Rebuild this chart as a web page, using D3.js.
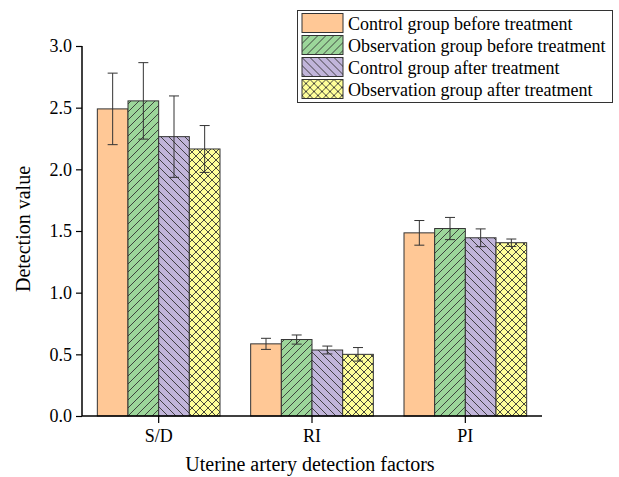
<!DOCTYPE html>
<html>
<head>
<meta charset="utf-8">
<script src="https://cdn.jsdelivr.net/npm/d3@7"></script>
<style>
  body { margin: 0; background: #fff; }
  text { font-family: "Liberation Serif", "Times New Roman", serif; fill: #000; }
</style>
</head>
<body>
<script>
const w = 619; // width
const h = 477; // height

// data
const categories = ["S/D", "RI", "PI"];
const groups = [
    "Control group before treatment",
    "Observation group before treatment",
    "Control group after treatment",
    "Observation group after treatment"
];
// means per group, in category order
const controlBefore = [2.49, 0.585, 1.485];
const observBefore = [2.555, 0.62, 1.52];
const controlAfter = [2.265, 0.535, 1.445];
const observAfter = [2.165, 0.50, 1.405];
// standard deviations
const controlBeforeSd = [0.29, 0.045, 0.10];
const observBeforeSd = [0.31, 0.037, 0.09];
const controlAfterSd = [0.33, 0.032, 0.072];
const observAfterSd = [0.19, 0.055, 0.03];
const yTicks = [0, 0.5, 1.0, 1.5, 2.0, 2.5, 3.0];

const means = [controlBefore, observBefore, controlAfter, observAfter];
const sds = [controlBeforeSd, observBeforeSd, controlAfterSd, observAfterSd];

const fills = ["#ffc896", "#9cd69a", "#c1b5da", "#ffff99"];
const patterns = [null, "diagUp", "diagDown", "cross"];

let svg = d3.select("body")
    .append("svg")
    .attr("width", w)
    .attr("height", h);

// hatch patterns
let defs = svg.append("defs");
function makePattern(id, bg, paths) {
    let p = defs.append("pattern")
        .attr("id", id)
        .attr("patternUnits", "userSpaceOnUse")
        .attr("width", 8)
        .attr("height", 8);
    p.append("rect").attr("width", 8).attr("height", 8).attr("fill", bg);
    paths.forEach(d => p.append("path")
        .attr("d", d)
        .attr("stroke", "#333")
        .attr("stroke-width", 0.9)
        .attr("fill", "none"));
}
makePattern("diagUp", fills[1], ["M-2,2 L2,-2", "M0,8 L8,0", "M6,10 L10,6"]);
makePattern("diagDown", fills[2], ["M-2,6 L2,10", "M0,0 L8,8", "M6,-2 L10,2"]);
makePattern("cross", fills[3], ["M-2,2 L2,-2", "M0,8 L8,0", "M6,10 L10,6",
    "M-2,6 L2,10", "M0,0 L8,8", "M6,-2 L10,2"]);

function fillFor(i) {
    return patterns[i] ? `url(#${patterns[i]})` : fills[i];
}

// scales
let x0 = d3.scaleBand()
    .domain(categories)
    .range([82, 542])
    .padding(0);

let x1 = d3.scaleBand()
    .domain(d3.range(groups.length))
    .range([0, x0.bandwidth()])
    .paddingInner(0)
    .paddingOuter(0.5);

let y = d3.scaleLinear()
    .domain([0, 3])
    .range([416, 46]);

// bars
let rows = [];
means.forEach((vals, gi) => vals.forEach((v, ci) => rows.push({
    g: gi, cat: categories[ci], v: v, sd: sds[gi][ci]
})));

svg.append("g")
    .selectAll("rect")
    .data(rows)
    .enter()
    .append("rect")
    .attr("x", d => x0(d.cat) + x1(d.g))
    .attr("y", d => y(d.v))
    .attr("width", x1.bandwidth())
    .attr("height", d => y(0) - y(d.v))
    .attr("fill", d => fillFor(d.g))
    .attr("stroke", "#333")
    .attr("stroke-width", 1);

// error bars
let err = svg.append("g")
    .attr("stroke", "#333")
    .attr("stroke-width", 1)
    .selectAll("g")
    .data(rows)
    .enter()
    .append("g")
    .attr("transform", d => `translate(${x0(d.cat) + x1(d.g) + x1.bandwidth() / 2},0)`);

err.append("line")
    .attr("y1", d => y(d.v + d.sd))
    .attr("y2", d => y(d.v - d.sd));
err.append("line")
    .attr("x1", -5).attr("x2", 5)
    .attr("y1", d => y(d.v + d.sd))
    .attr("y2", d => y(d.v + d.sd));
err.append("line")
    .attr("x1", -5).attr("x2", 5)
    .attr("y1", d => y(d.v - d.sd))
    .attr("y2", d => y(d.v - d.sd));

// y axis
let gY = svg.append("g")
    .attr("transform", "translate(82,0)")
    .call(d3.axisLeft(y).tickValues(yTicks).tickFormat(d3.format(".1f")).tickSize(6).tickPadding(4));

// x axis
let gX = svg.append("g")
    .attr("transform", "translate(0,416)")
    .call(d3.axisBottom(x0).tickSize(7).tickPadding(6));

[gX, gY].forEach(g => {
    g.select(".domain").attr("stroke", "#000").attr("stroke-width", 1.5);
    g.selectAll(".tick line").attr("stroke", "#000").attr("stroke-width", 1.2);
    g.selectAll(".tick text")
        .attr("font-family", '"Liberation Serif", serif')
        .attr("font-size", 18)
        .attr("fill", "#000");
});
gY.select(".domain").attr("d", "M0,416V46");
gX.select(".domain").attr("d", "M82,0H542");

// axis titles
svg.append("text")
    .attr("text-anchor", "middle")
    .attr("x", 310)
    .attr("y", 471)
    .attr("font-size", 20)
    .text("Uterine artery detection factors");

svg.append("text")
    .attr("text-anchor", "middle")
    .attr("transform", "translate(30,229) rotate(-90)")
    .attr("font-size", 20)
    .text("Detection value");

// legend
let legend = svg.append("g");
legend.append("rect")
    .attr("x", 297.5).attr("y", 10.5)
    .attr("width", 315).attr("height", 92)
    .attr("fill", "#fff")
    .attr("stroke", "#333")
    .attr("stroke-width", 1);

let item = legend.selectAll("g.item")
    .data(groups)
    .enter()
    .append("g")
    .attr("class", "item")
    .attr("transform", (d, i) => `translate(302,${13.5 + i * 22})`);

item.append("rect")
    .attr("width", 41)
    .attr("height", 19)
    .attr("fill", (d, i) => fillFor(i))
    .attr("stroke", "#333")
    .attr("stroke-width", 1);

item.append("text")
    .attr("x", 46)
    .attr("y", 16)
    .attr("font-size", 18)
    .text(d => d);
</script>
</body>
</html>
